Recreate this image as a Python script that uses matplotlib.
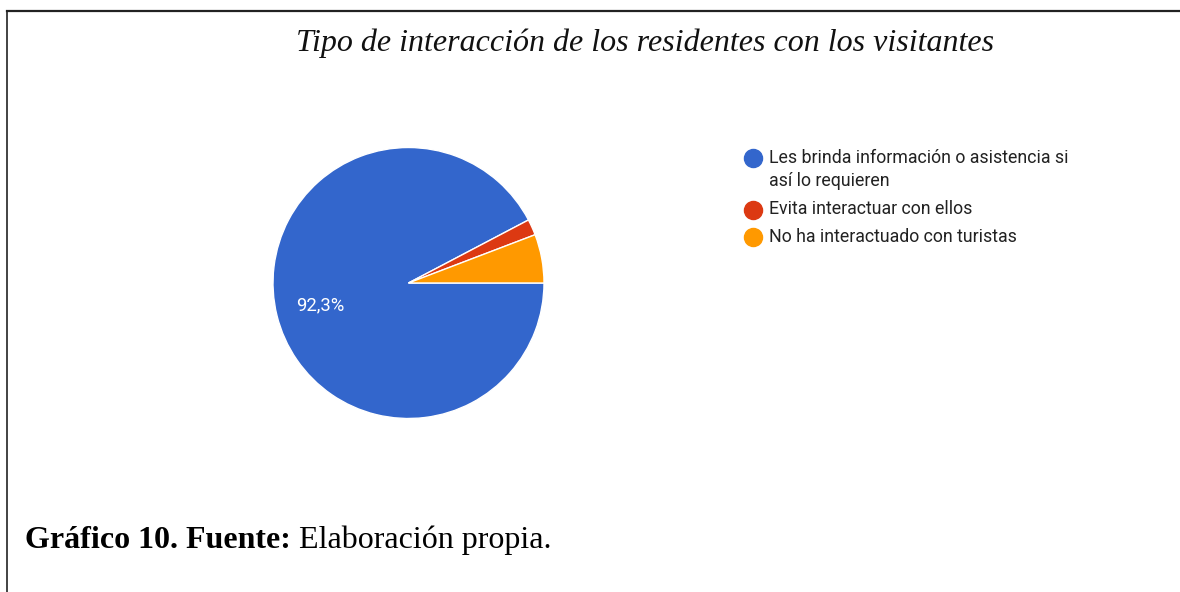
import matplotlib
matplotlib.use("Agg")
import matplotlib.pyplot as plt
from matplotlib.lines import Line2D

title = "Tipo de interacción de los residentes con los visitantes"
categories = ["Les brinda información o asistencia si\nasí lo requieren",
              "Evita interactuar con ellos",
              "No ha interactuado con turistas"]
values = [92.3, 1.9, 5.8]
colors = ["#3366cc", "#dc3912", "#ff9900"]
shown_label = "92,3%"
caption_bold = "Gráfico 10. Fuente:"
caption_rest = " Elaboración propia."

W, H = 1180, 592
fig = plt.figure(figsize=(W / 100, H / 100), dpi=100)
fig.patch.set_facecolor("white")

# border lines (top and left)
fig.add_artist(Line2D([6.5 / W, 1.0], [1 - 11 / H, 1 - 11 / H], color="#222222", lw=1.6,
                      transform=fig.transFigure))
fig.add_artist(Line2D([6.5 / W, 6.5 / W], [0, 1 - 11 / H], color="#222222", lw=1.2,
                      transform=fig.transFigure))

# title
fig.text(645 / W, 1 - 51 / H, title, ha="center", va="baseline",
         fontfamily="Liberation Serif", fontstyle="italic", fontsize=23, color="#111111")

# pie
cx, cy, r = 408.5, 283, 135.5
ax = fig.add_axes([(cx - r) / W, (H - cy - r) / H, 2 * r / W, 2 * r / H])
wedges, _ = ax.pie(values, colors=colors, startangle=0, counterclock=False,
                   radius=1.0, wedgeprops=dict(edgecolor="white", linewidth=1.0))
ax.set_xlim(-1, 1)
ax.set_ylim(-1, 1)
ax.set_aspect("auto")
ax.axis("off")
ax.text((320.5 - cx) / r, (cy - 305.5) / r, shown_label, ha="center", va="center",
        color="white", fontfamily="Roboto", fontsize=13.3)

# legend markers
leg_y = [157.5, 209.5, 236.5]
for col, y in zip(colors, leg_y):
    fig.add_artist(Line2D([753 / W], [1 - y / H], marker="o", markersize=13,
                          markerfacecolor=col, markeredgecolor=col, linestyle="none",
                          transform=fig.transFigure))

# legend texts
lfs = 12.8
first_lines = categories[0].split("\n")
fig.text(769 / W, 1 - 157.5 / H, first_lines[0], ha="left", va="center",
         fontfamily="Roboto", fontsize=lfs, color="#222222")
fig.text(769 / W, 1 - 181 / H, first_lines[1], ha="left", va="center",
         fontfamily="Roboto", fontsize=lfs, color="#222222")
fig.text(769 / W, 1 - 209.5 / H, categories[1], ha="left", va="center",
         fontfamily="Roboto", fontsize=lfs, color="#222222")
fig.text(769 / W, 1 - 236.5 / H, categories[2], ha="left", va="center",
         fontfamily="Roboto", fontsize=lfs, color="#222222")

# caption
cfs = 23
t1 = fig.text(25 / W, 1 - 548 / H, caption_bold, ha="left", va="baseline",
              fontfamily="Liberation Serif", fontweight="bold", fontsize=cfs, color="#000000")
fig.canvas.draw()
bb = t1.get_window_extent()
fig.text(bb.x1 / W, 1 - 548 / H, caption_rest, ha="left", va="baseline",
         fontfamily="Liberation Serif", fontsize=cfs, color="#000000")

fig.savefig("out.png", dpi=100, facecolor="white")
